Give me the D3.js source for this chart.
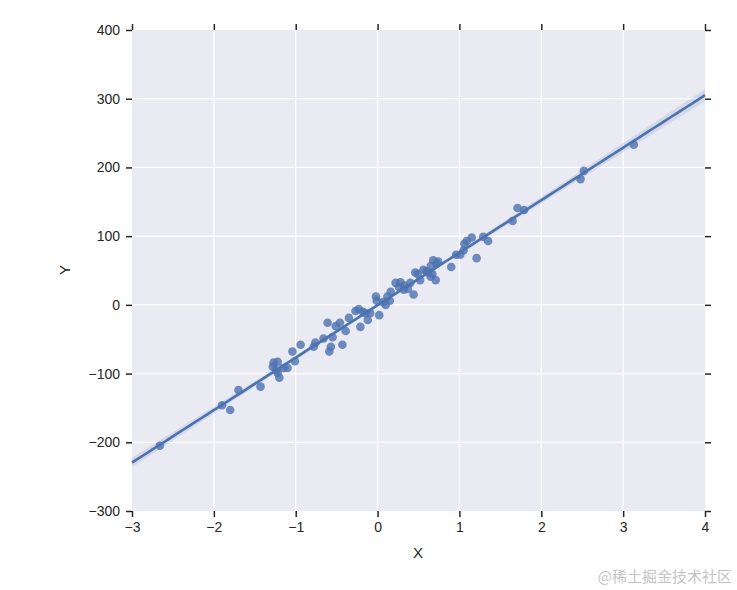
<!DOCTYPE html>
<html>
<head>
	<meta charset="utf-8">
	<title>regplot</title>
	<style>
		html, body {
			margin: 0;
			padding: 0;
			background: #fff;
		}
		svg text {
			font-family: "Liberation Sans", Arial, sans-serif;
			fill: #262626;
		}
	</style>
</head>
<body>
	<svg id="chart" width="737" height="590"></svg>

	<script src="https://cdnjs.cloudflare.com/ajax/libs/d3/7.8.5/d3.min.js"></script>
	<script>
		// values
		var xs = [-2.66, -1.90, -1.80, -1.70, -1.43, -1.28, -1.27, -1.24, -1.22, -1.22,
			-1.20, -1.15, -1.10, -1.04, -1.01, -0.94, -0.78, -0.76, -0.66, -0.61,
			-0.57, -0.59, -0.55, -0.51, -0.46, -0.43, -0.39, -0.35, -0.27, -0.23,
			-0.21, -0.18, -0.15, -0.12, -0.09, 0.02, -0.01, -0.02, 0.10, 0.15,
			0.12, 0.16, 0.22, 0.26, 0.28, 0.32, 0.40, 0.44, 0.46, 0.52,
			0.61, 0.65, 0.71, 0.68, 0.72, 0.74, 0.56, 0.60, 0.65, 0.90,
			0.96, 1.01, 1.05, 1.06, 1.09, 1.15, 1.21, 1.29, 1.35, 1.65,
			1.71, 1.79, 2.48, 2.52, 3.13, 0.37, 0.33, 0.67, 0.49, 0.07];
		var ys = [-205, -146, -153, -124, -119, -90, -84, -95, -83, -99,
			-106, -92, -92, -68, -82, -58, -61, -55, -49, -26,
			-61, -68, -47, -31, -26, -58, -38, -19, -9, -6,
			-32, -10, -12, -22, -12, -15, 6, 12, 0, 6,
			12, 19, 32, 26, 33, 22, 32, 15, 47, 36,
			47, 41, 36, 65, 60, 63, 51, 49, 57, 55,
			73, 73, 79, 89, 93, 98, 68, 99, 93, 122,
			141, 138, 183, 195, 233, 23, 28, 45, 45, 4];
		var xTicks = [-3, -2, -1, 0, 1, 2, 3, 4];
		var yTicks = [-300, -200, -100, 0, 100, 200, 300, 400];

		var svg = d3.select('#chart');
		var margin = {top: 30, right: 32, bottom: 79, left: 132};
		var w = 737 - margin.left - margin.right;
		var h = 590 - margin.top - margin.bottom;
		var blue = '#4C72B0';

		var x = d3.scaleLinear().domain([-3, 4]).range([0, w]);
		var y = d3.scaleLinear().domain([-300, 400]).range([h, 0]);

		var g = svg.append('g').attr('transform', 'translate(' + margin.left + ',' + margin.top + ')');

		// darkgrid background
		g.append('rect').attr('width', w).attr('height', h).attr('fill', '#EAEAF2');

		g.append('g').selectAll('line').data(xTicks.slice(1, -1)).join('line')
			.attr('x1', d => x(d)).attr('x2', d => x(d))
			.attr('y1', 0).attr('y2', h)
			.attr('stroke', '#fff').attr('stroke-width', 1.2);
		g.append('g').selectAll('line').data(yTicks.slice(1, -1)).join('line')
			.attr('y1', d => y(d)).attr('y2', d => y(d))
			.attr('x1', 0).attr('x2', w)
			.attr('stroke', '#fff').attr('stroke-width', 1.2);

		// least squares fit + analytic 95% band
		var n = xs.length;
		var mx = d3.mean(xs), my = d3.mean(ys);
		var sxx = d3.sum(xs, d => (d - mx) * (d - mx));
		var sxy = d3.sum(xs, (d, i) => (d - mx) * (ys[i] - my));
		var slope = sxy / sxx, icpt = my - slope * mx;
		var sse = d3.sum(xs, (d, i) => Math.pow(ys[i] - (icpt + slope * d), 2));
		var se = Math.sqrt(sse / (n - 2));
		var grid = d3.range(0, 101).map(i => -3 + 7 * i / 100);
		var band = grid.map(function (d) {
			var yh = icpt + slope * d;
			var e = 1.99 * se * Math.sqrt(1 / n + (d - mx) * (d - mx) / sxx);
			return {x: d, y: yh, lo: yh - e, hi: yh + e};
		});

		g.append('path').datum(band)
			.attr('fill', blue).attr('fill-opacity', 0.15)
			.attr('d', d3.area().x(d => x(d.x)).y0(d => y(d.lo)).y1(d => y(d.hi)));

		// scatter
		g.append('g').selectAll('circle').data(xs).join('circle')
			.attr('cx', d => x(d))
			.attr('cy', (d, i) => y(ys[i]))
			.attr('r', 4.3)
			.attr('fill', blue).attr('fill-opacity', 0.8);

		g.append('path').datum(band)
			.attr('fill', 'none').attr('stroke', blue).attr('stroke-width', 2.6)
			.attr('d', d3.line().x(d => x(d.x)).y(d => y(d.y)));

		// ticks on all four sides, outward
		function styleAxis(sel, labels) {
			sel.select('.domain').remove();
			sel.selectAll('.tick line').attr('stroke', '#262626').attr('stroke-width', 1.5);
			sel.selectAll('.tick text').attr('font-size', 14).attr('fill', '#262626');
			if (!labels) sel.selectAll('.tick text').remove();
		}
		var fmt = d => d < 0 ? '\u2212' + Math.abs(d) : '' + d;

		g.append('g').attr('transform', 'translate(0,' + h + ')')
			.call(d3.axisBottom(x).tickValues(xTicks).tickFormat(fmt).tickSize(6).tickPadding(5))
			.call(styleAxis, true);
		g.append('g')
			.call(d3.axisTop(x).tickValues(xTicks).tickSize(6))
			.call(styleAxis, false);
		g.append('g')
			.call(d3.axisLeft(y).tickValues(yTicks).tickFormat(fmt).tickSize(6).tickPadding(6))
			.call(styleAxis, true);
		g.append('g').attr('transform', 'translate(' + w + ',0)')
			.call(d3.axisRight(y).tickValues(yTicks).tickSize(6))
			.call(styleAxis, false);

		// axis labels
		svg.append('text').attr('x', 418).attr('y', 558)
			.attr('text-anchor', 'middle').attr('font-size', 15).text('X');
		svg.append('text').attr('transform', 'translate(70,270) rotate(-90)')
			.attr('text-anchor', 'middle').attr('font-size', 15).text('Y');

		// watermark
		svg.append('text').attr('x', 732).attr('y', 582)
			.attr('text-anchor', 'end')
			.style('font-family', '"Noto Sans CJK SC", sans-serif')
			.style('fill', '#c4c4c4')
			.attr('font-size', 15).text('@稀土掘金技术社区');
	</script>
</body>
</html>
